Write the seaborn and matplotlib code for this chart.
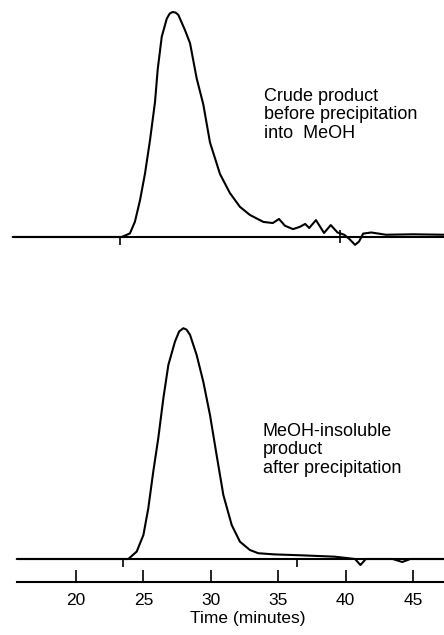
import matplotlib
matplotlib.use("Agg")
import matplotlib.pyplot as plt
import seaborn as sns

# chromatogram traces (time in minutes, signal normalised to peak)
crude_time = [15.3, 23.39, 24.0, 24.37, 24.75, 25.12, 25.49, 25.86, 26.06, 26.36,
              26.73, 26.95, 27.17, 27.4, 27.59, 28.08, 28.46, 28.95, 29.44, 29.94,
              30.68, 31.42, 32.16, 32.9, 33.9, 34.6, 35.06, 35.5, 36.1, 36.6, 37.0,
              37.3, 37.8, 38.4, 38.9, 39.4, 39.9, 40.3, 40.7, 41.0, 41.3, 41.9, 43.0,
              45.0, 47.3]
crude_signal = [0, 0, 0.016, 0.068, 0.164, 0.283, 0.431, 0.6, 0.745, 0.89,
                0.97, 0.993, 1.0, 0.997, 0.987, 0.92, 0.861, 0.705, 0.59, 0.42,
                0.28, 0.195, 0.134, 0.098, 0.067, 0.062, 0.08, 0.05, 0.035, 0.045, 0.058,
                0.04, 0.075, 0.018, 0.053, 0.02, 0.01, -0.01, -0.035, -0.02, 0.015, 0.02,
                0.01, 0.012, 0.01]
crude_marks = [23.26, 39.58]

insol_time = [15.6, 23.88, 24.5, 25.0, 25.36, 25.73, 26.1, 26.48, 26.85, 27.34,
              27.65, 27.96, 28.2, 28.46, 28.95, 29.44, 29.94, 30.43, 30.93, 31.55,
              32.16, 32.9, 33.52, 34.7, 36.7, 39.2, 40.7, 41.1, 41.5, 43.5, 44.2,
              44.8, 47.3]
insol_signal = [0, 0, 0.032, 0.104, 0.219, 0.378, 0.522, 0.696, 0.84, 0.941,
                0.985, 0.999, 0.993, 0.97, 0.883, 0.768, 0.623, 0.45, 0.277, 0.147,
                0.075, 0.039, 0.025, 0.02, 0.016, 0.01, 0.0, -0.026, 0.0, 0.0, -0.013,
                0.0, 0.0]
insol_marks = [23.48, 36.39]

time_ticks = [20, 25, 30, 35, 40, 45]
crude_label = "Crude product\nbefore precipitation\ninto  MeOH"
insol_label = "MeOH-insoluble\nproduct\nafter precipitation"

sns.set_style("white")
plt.rcParams["font.family"] = ["Liberation Sans", "DejaVu Sans"]
plt.rcParams["text.color"] = "black"
plt.rcParams["axes.labelcolor"] = "black"
plt.rcParams["xtick.color"] = "black"

fig = plt.figure(figsize=(4.44, 6.35), dpi=100)
ax_top = fig.add_axes([0, 0.55, 1, 0.45])
ax_bot = fig.add_axes([0, 0.0, 1, 0.54])

xlim = (14.36, 47.30)
lw = 1.5

# top trace
sns.lineplot(x=crude_time, y=crude_signal, ax=ax_top, color="black", lw=lw,
             estimator=None, sort=False)
ax_top.hlines(0, 15.3, xlim[1], color="black", lw=lw)
ax_top.vlines(crude_marks[0], -0.036, 0, color="black", lw=1.2)
ax_top.vlines(crude_marks[1], -0.027, 0.03, color="black", lw=1.2)
ax_top.set_xlim(xlim)
ax_top.set_ylim(-0.2167, 1.0533)
ax_top.axis("off")

# bottom trace with time axis below it
sns.lineplot(x=insol_time, y=insol_signal, ax=ax_bot, color="black", lw=lw,
             estimator=None, sort=False)
ax_bot.hlines(0, 15.6, xlim[1], color="black", lw=lw)
ax_bot.vlines(insol_marks, -0.035, 0, color="black", lw=1.2)
ax_bot.set_xlim(xlim)
ax_bot.set_ylim(-0.329, 1.1554)
for side in ["top", "left", "right"]:
    ax_bot.spines[side].set_visible(False)
ax_bot.spines["bottom"].set_position(("data", -0.0996))
ax_bot.spines["bottom"].set_bounds(15.6, xlim[1])
ax_bot.spines["bottom"].set_linewidth(lw)
ax_bot.spines["bottom"].set_color("black")
ax_bot.set_yticks([])
ax_bot.set_xticks(time_ticks)
ax_bot.set_xticklabels([str(t) for t in time_ticks])
ax_bot.tick_params(axis="x", direction="in", length=9, width=1.2, color="black",
                   pad=8, labelsize=12.5, bottom=True, labelcolor="black")
ax_bot.set_xlabel("Time (minutes)", fontsize=12.5)
ax_bot.xaxis.set_label_coords(248 / 444, 24 / 342.9)
ax_bot.set_ylabel("")

fig.text(264 / 444, 1 - 88 / 635, crude_label, fontsize=13, va="top", ha="left",
         linespacing=1.1)
fig.text(263 / 444, 1 - 423 / 635, insol_label, fontsize=13, va="top", ha="left",
         linespacing=1.1)

fig.savefig("out.png", dpi=100)
